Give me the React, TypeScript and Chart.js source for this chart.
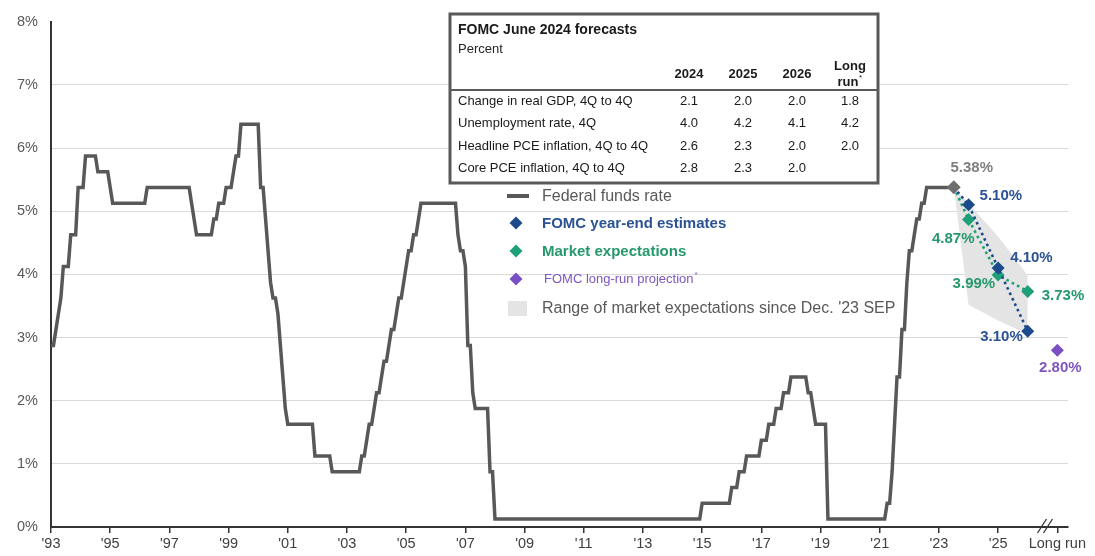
import React, { useEffect, useRef } from "react";
import { Chart, registerables } from "chart.js";

Chart.register(...registerables);

const FONT = "'Liberation Sans', Arial, Helvetica, sans-serif";

// ---------------- data ----------------
const xTickValues = [1994, 1996, 1998, 2000, 2002, 2004, 2006, 2008, 2010, 2012, 2014, 2016, 2018, 2020, 2022, 2024, 2026, 2028];
const xTickLabels = ["'93", "'95", "'97", "'99", "'01", "'03", "'05", "'07", "'09", "'11", "'13", "'15", "'17", "'19", "'21", "'23", "'25", "Long run"];
const yTickValues = [0, 1, 2, 3, 4, 5, 6, 7, 8];

// monthly federal funds rate, first value sits at the axis origin
const ffrFirstMonth = 1994;
const ffrMonthly = [
  2.875,
  2.875, 3.125, 3.375, 3.625, 4.125, 4.125, 4.125, 4.625, 4.625, 4.625, 5.375, 5.375,
  5.375, 5.875, 5.875, 5.875, 5.875, 5.875, 5.625, 5.625, 5.625, 5.625, 5.625, 5.375,
  5.125, 5.125, 5.125, 5.125, 5.125, 5.125, 5.125, 5.125, 5.125, 5.125, 5.125, 5.125,
  5.125, 5.125, 5.375, 5.375, 5.375, 5.375, 5.375, 5.375, 5.375, 5.375, 5.375, 5.375,
  5.375, 5.375, 5.375, 5.375, 5.375, 5.375, 5.375, 5.375, 5.125, 4.875, 4.625, 4.625,
  4.625, 4.625, 4.625, 4.625, 4.625, 4.875, 4.875, 5.125, 5.125, 5.125, 5.375, 5.375,
  5.375, 5.625, 5.875, 5.875, 6.375, 6.375, 6.375, 6.375, 6.375, 6.375, 6.375, 6.375,
  5.375, 5.375, 4.875, 4.375, 3.875, 3.625, 3.625, 3.375, 2.875, 2.375, 1.875, 1.625,
  1.625, 1.625, 1.625, 1.625, 1.625, 1.625, 1.625, 1.625, 1.625, 1.625, 1.125, 1.125,
  1.125, 1.125, 1.125, 1.125, 1.125, 0.875, 0.875, 0.875, 0.875, 0.875, 0.875, 0.875,
  0.875, 0.875, 0.875, 0.875, 0.875, 1.125, 1.125, 1.375, 1.625, 1.625, 1.875, 2.125,
  2.125, 2.375, 2.625, 2.625, 2.875, 3.125, 3.125, 3.375, 3.625, 3.625, 3.875, 4.125,
  4.375, 4.375, 4.625, 4.625, 4.875, 5.125, 5.125, 5.125, 5.125, 5.125, 5.125, 5.125,
  5.125, 5.125, 5.125, 5.125, 5.125, 5.125, 5.125, 5.125, 4.625, 4.375, 4.375, 4.125,
  2.875, 2.875, 2.125, 1.875, 1.875, 1.875, 1.875, 1.875, 1.875, 0.875, 0.875, 0.125,
  0.125, 0.125, 0.125, 0.125, 0.125, 0.125, 0.125, 0.125, 0.125, 0.125, 0.125, 0.125,
  0.125, 0.125, 0.125, 0.125, 0.125, 0.125, 0.125, 0.125, 0.125, 0.125, 0.125, 0.125,
  0.125, 0.125, 0.125, 0.125, 0.125, 0.125, 0.125, 0.125, 0.125, 0.125, 0.125, 0.125,
  0.125, 0.125, 0.125, 0.125, 0.125, 0.125, 0.125, 0.125, 0.125, 0.125, 0.125, 0.125,
  0.125, 0.125, 0.125, 0.125, 0.125, 0.125, 0.125, 0.125, 0.125, 0.125, 0.125, 0.125,
  0.125, 0.125, 0.125, 0.125, 0.125, 0.125, 0.125, 0.125, 0.125, 0.125, 0.125, 0.125,
  0.125, 0.125, 0.125, 0.125, 0.125, 0.125, 0.125, 0.125, 0.125, 0.125, 0.125, 0.375,
  0.375, 0.375, 0.375, 0.375, 0.375, 0.375, 0.375, 0.375, 0.375, 0.375, 0.375, 0.625,
  0.625, 0.625, 0.875, 0.875, 0.875, 1.125, 1.125, 1.125, 1.125, 1.125, 1.125, 1.375,
  1.375, 1.375, 1.625, 1.625, 1.625, 1.875, 1.875, 1.875, 2.125, 2.125, 2.125, 2.375,
  2.375, 2.375, 2.375, 2.375, 2.375, 2.375, 2.125, 2.125, 1.875, 1.625, 1.625, 1.625,
  1.625, 1.625, 0.125, 0.125, 0.125, 0.125, 0.125, 0.125, 0.125, 0.125, 0.125, 0.125,
  0.125, 0.125, 0.125, 0.125, 0.125, 0.125, 0.125, 0.125, 0.125, 0.125, 0.125, 0.125,
  0.125, 0.125, 0.375, 0.375, 0.875, 1.625, 2.375, 2.375, 3.125, 3.125, 3.875, 4.375,
  4.375, 4.625, 4.875, 4.875, 5.125, 5.125, 5.375, 5.375, 5.375, 5.375, 5.375, 5.375,
  5.375, 5.375, 5.375, 5.375, 5.375, 5.375,
];

const currentDate = 2024.5;
const currentRate = 5.38;
const forecastDates = [2025, 2026, 2027];
const fomcEstimates = [5.1, 4.1, 3.1];
const marketExpectations = [4.87, 3.99, 3.73];
const longRunDate = 2028;
const longRunProjection = 2.8;
const rangeDates = [2024.5, 2025, 2026, 2027];
const rangeUpper = [5.38, 5.12, 4.6, 3.98];
const rangeLower = [5.38, 3.52, 3.27, 3.05];
const axisBreakAt = 2027.6;

const legendLabels = [
  "Federal funds rate",
  "FOMC year-end estimates",
  "Market expectations",
  "FOMC long-run projection",
  "Range of market expectations since Dec. '23 SEP",
];

const tableTitle = "FOMC June 2024 forecasts";
const tableUnit = "Percent";
const tableColumns = ["2024", "2025", "2026"];
const tableLongRun = ["Long", "run"];
const tableRows = [
  "Change in real GDP, 4Q to 4Q",
  "Unemployment rate, 4Q",
  "Headline PCE inflation, 4Q to 4Q",
  "Core PCE inflation, 4Q to 4Q",
];
const tableValues = [
  ["2.1", "2.0", "2.0", "1.8"],
  ["4.0", "4.2", "4.1", "4.2"],
  ["2.6", "2.3", "2.0", "2.0"],
  ["2.8", "2.3", "2.0", ""],
];

// ---------------- styles ----------------
const GREY_LINE = "#585858";
const GREY_TEXT = "#595959";
const CURRENT_GREY = "#6e6e6e";
const NAVY = "#1d4a8b";
const NAVY_TEXT = "#2a5294";
const GREEN = "#1f9f77";
const GREEN_TEXT = "#25996c";
const PURPLE = "#7a4fc4";
const PURPLE_TEXT = "#7e56c0";
const RANGE_FILL = "#e4e4e4";

function txt(ctx: CanvasRenderingContext2D, s: string, x: number, y: number, font: string, color: string, align: CanvasTextAlign = "left") {
  ctx.font = font;
  ctx.fillStyle = color;
  ctx.textAlign = align;
  ctx.textBaseline = "middle";
  ctx.fillText(s, x, y);
}

function diamond(ctx: CanvasRenderingContext2D, x: number, y: number, r: number, color: string) {
  ctx.beginPath();
  ctx.moveTo(x, y - r);
  ctx.lineTo(x + r, y);
  ctx.lineTo(x, y + r);
  ctx.lineTo(x - r, y);
  ctx.closePath();
  ctx.fillStyle = color;
  ctx.fill();
}

const overlayPlugin = {
  id: "overlay",
  beforeDatasetsDraw(chart: any) {
    const ctx: CanvasRenderingContext2D = chart.ctx;
    ctx.save();
    // ---- forecast table ----
    const L = 450, R = 878, T = 14, B = 183;
    ctx.fillStyle = "#ffffff";
    ctx.fillRect(L, T, R - L, B - T);
    ctx.strokeStyle = GREY_TEXT;
    ctx.lineWidth = 3;
    ctx.strokeRect(L, T, R - L, B - T);
    const ink = "#1a1a1a";
    txt(ctx, tableTitle, 458, 30, `bold 14px ${FONT}`, ink);
    txt(ctx, tableUnit, 458, 49, `13px ${FONT}`, "#262626");
    const colX = [689, 743, 797, 850];
    tableColumns.forEach((c, i) => txt(ctx, c, colX[i], 74, `bold 13px ${FONT}`, ink, "center"));
    txt(ctx, tableLongRun[0], colX[3], 66, `bold 13px ${FONT}`, ink, "center");
    ctx.font = `bold 13px ${FONT}`;
    const rw = ctx.measureText(tableLongRun[1]).width;
    txt(ctx, tableLongRun[1], colX[3] - 2, 82, `bold 13px ${FONT}`, ink, "center");
    txt(ctx, "*", colX[3] - 2 + rw / 2 + 0.5, 78, `8px ${FONT}`, ink, "left");
    ctx.strokeStyle = GREY_TEXT;
    ctx.lineWidth = 2;
    ctx.beginPath();
    ctx.moveTo(L, 90);
    ctx.lineTo(R, 90);
    ctx.stroke();
    const rowY = [101, 123.5, 146, 168.5];
    tableRows.forEach((r, i) => {
      txt(ctx, r, 458, rowY[i], `13px ${FONT}`, ink);
      tableValues[i].forEach((v, j) => txt(ctx, v, colX[j], rowY[i], `13px ${FONT}`, ink, "center"));
    });

    // ---- legend ----
    const lx = 542;
    ctx.strokeStyle = GREY_LINE;
    ctx.lineWidth = 4;
    ctx.beginPath();
    ctx.moveTo(507, 196);
    ctx.lineTo(529, 196);
    ctx.stroke();
    txt(ctx, legendLabels[0], lx, 197, `16px ${FONT}`, GREY_TEXT);
    diamond(ctx, 516, 223, 6.5, NAVY);
    txt(ctx, legendLabels[1], lx, 224, `bold 15px ${FONT}`, NAVY_TEXT);
    diamond(ctx, 516, 251, 6.5, GREEN);
    txt(ctx, legendLabels[2], lx, 252, `bold 15px ${FONT}`, GREEN_TEXT);
    diamond(ctx, 516, 279, 6.5, PURPLE);
    txt(ctx, legendLabels[3], lx + 2, 279, `13px ${FONT}`, PURPLE_TEXT);
    ctx.font = `13px ${FONT}`;
    const pw = ctx.measureText(legendLabels[3]).width;
    txt(ctx, "*", lx + 2 + pw + 1, 275, `8px ${FONT}`, PURPLE_TEXT);
    ctx.fillStyle = RANGE_FILL;
    ctx.fillRect(508, 301, 19, 15);
    txt(ctx, legendLabels[4], lx, 309, `16px ${FONT}`, GREY_TEXT);
    ctx.restore();
  },
  afterDatasetsDraw(chart: any) {
    const ctx: CanvasRenderingContext2D = chart.ctx;
    const xs = chart.scales.x;
    const ys = chart.scales.y;
    ctx.save();
    const lbl = (date: number, val: number, dx: number, dy: number, color: string, align: CanvasTextAlign) => {
      const px = xs.getPixelForValue(date);
      const py = ys.getPixelForValue(val);
      txt(ctx, val.toFixed(2) + "%", px + dx, py + dy, `bold 15px ${FONT}`, color, align);
    };
    lbl(currentDate, currentRate, 18, -19, "#7f7f7f", "center");
    const fomcOff = [[11, -9, "left"], [12, -10, "left"], [-5, 6, "right"]];
    fomcEstimates.forEach((v, i) => lbl(forecastDates[i], v, fomcOff[i][0] as number, fomcOff[i][1] as number, NAVY_TEXT, fomcOff[i][2] as CanvasTextAlign));
    const mktOff = [[6, 19, "right"], [-3, 9, "right"], [14, 4.5, "left"]];
    marketExpectations.forEach((v, i) => lbl(forecastDates[i], v, mktOff[i][0] as number, mktOff[i][1] as number, GREEN_TEXT, mktOff[i][2] as CanvasTextAlign));
    lbl(longRunDate, longRunProjection, 3, 18, PURPLE_TEXT, "center");

    // axis break marks
    const bx = xs.getPixelForValue(axisBreakAt);
    const by = chart.chartArea.bottom;
    ctx.strokeStyle = "#333333";
    ctx.lineWidth = 1.3;
    ctx.beginPath();
    ctx.moveTo(bx - 8, by + 6);
    ctx.lineTo(bx + 1, by - 8);
    ctx.moveTo(bx - 2, by + 6);
    ctx.lineTo(bx + 7, by - 8);
    ctx.stroke();
    ctx.restore();
  },
};

export default function App() {
  const ref = useRef<HTMLCanvasElement>(null);
  useEffect(() => {
    document.body.style.margin = "0";
    const canvas = ref.current;
    if (!canvas) return;
    Chart.defaults.font.family = FONT;

    const ffrPoints = ffrMonthly.map((v, i) => ({ x: ffrFirstMonth + i / 12, y: v }));
    const fomcPoints = [{ x: currentDate, y: currentRate }, ...forecastDates.map((d, i) => ({ x: d, y: fomcEstimates[i] }))];
    const mktPoints = [{ x: currentDate, y: currentRate }, ...forecastDates.map((d, i) => ({ x: d, y: marketExpectations[i] }))];
    const upperPts = rangeDates.map((d, i) => ({ x: d, y: rangeUpper[i] }));
    const lowerPts = rangeDates.map((d, i) => ({ x: d, y: rangeLower[i] }));

    const chart = new Chart(canvas, {
      type: "line",
      data: {
        datasets: [
          {
            label: "range upper",
            data: upperPts,
            fill: "+1",
            backgroundColor: RANGE_FILL,
            borderColor: "rgba(0,0,0,0)",
            borderWidth: 0,
            pointRadius: 0,
            order: 20,
          },
          {
            label: "range lower",
            data: lowerPts,
            fill: false,
            borderColor: "rgba(0,0,0,0)",
            borderWidth: 0,
            pointRadius: 0,
            order: 21,
          },
          {
            label: "Federal funds rate",
            data: ffrPoints,
            borderColor: GREY_LINE,
            borderWidth: 3.5,
            pointRadius: 0,
            fill: false,
            tension: 0,
            order: 10,
          },
          {
            label: "Market expectations",
            data: mktPoints,
            borderColor: GREEN,
            borderWidth: 2.6,
            borderDash: [2.6, 3.4],
            pointStyle: "rectRot",
            pointRadius: (c: any) => (c.dataIndex === 0 ? 0 : 6.5),
            pointBackgroundColor: GREEN,
            pointBorderWidth: 0,
            fill: false,
            order: 6,
          },
          {
            label: "FOMC year-end estimates",
            data: fomcPoints,
            borderColor: NAVY,
            borderWidth: 2.6,
            borderDash: [2.6, 3.4],
            pointStyle: "rectRot",
            pointRadius: (c: any) => (c.dataIndex === 0 ? 0 : 6.5),
            pointBackgroundColor: NAVY,
            pointBorderWidth: 0,
            fill: false,
            order: 5,
          },
          {
            label: "FOMC long-run projection",
            data: [{ x: longRunDate, y: longRunProjection }],
            showLine: false,
            pointStyle: "rectRot",
            pointRadius: 6.5,
            pointBackgroundColor: PURPLE,
            pointBorderWidth: 0,
            order: 2,
          },
          {
            label: "Current",
            data: [{ x: currentDate, y: currentRate }],
            showLine: false,
            pointStyle: "rectRot",
            pointRadius: 7,
            pointBackgroundColor: CURRENT_GREY,
            pointBorderWidth: 0,
            order: 1,
          },
        ],
      },
      options: {
        animation: false,
        responsive: false,
        devicePixelRatio: 1,
        layout: { padding: { left: 0, right: 27, top: 10.5, bottom: 0 } },
        plugins: { legend: { display: false }, tooltip: { enabled: false } },
        scales: {
          x: {
            type: "linear",
            min: 1994,
            max: 2028.36,
            afterFit: (s: any) => {
              s.height = 29;
            },
            afterBuildTicks: (s: any) => {
              s.ticks = xTickValues.map((v) => ({ value: v }));
            },
            ticks: {
              autoSkip: false,
              maxRotation: 0,
              padding: 2,
              color: "#404040",
              font: { size: 14.5, family: FONT },
              callback: (_v: any, i: number) => xTickLabels[i],
            },
            grid: { drawOnChartArea: false, drawTicks: true, tickLength: 6, color: "#333333", lineWidth: 1.5 },
            border: { display: true, color: "#333333", width: 2 },
          },
          y: {
            min: 0,
            max: 8,
            afterFit: (s: any) => {
              s.width = 51;
            },
            afterBuildTicks: (s: any) => {
              s.ticks = yTickValues.map((v) => ({ value: v }));
            },
            ticks: {
              padding: 13,
              color: "#595959",
              font: { size: 14.5, family: FONT },
              callback: (v: any) => v + "%",
            },
            grid: {
              drawTicks: false,
              lineWidth: 1,
              color: (c: any) => (c.tick && c.tick.value === 8 ? "rgba(0,0,0,0)" : "#d9d9d9"),
            },
            border: { display: true, color: "#333333", width: 2 },
          },
        },
      },
      plugins: [overlayPlugin],
    } as any);
    return () => chart.destroy();
  }, []);
  return (
    <div style={{ width: 1095, height: 556 }}>
      <canvas ref={ref} width={1095} height={556} style={{ display: "block" }} />
    </div>
  );
}
